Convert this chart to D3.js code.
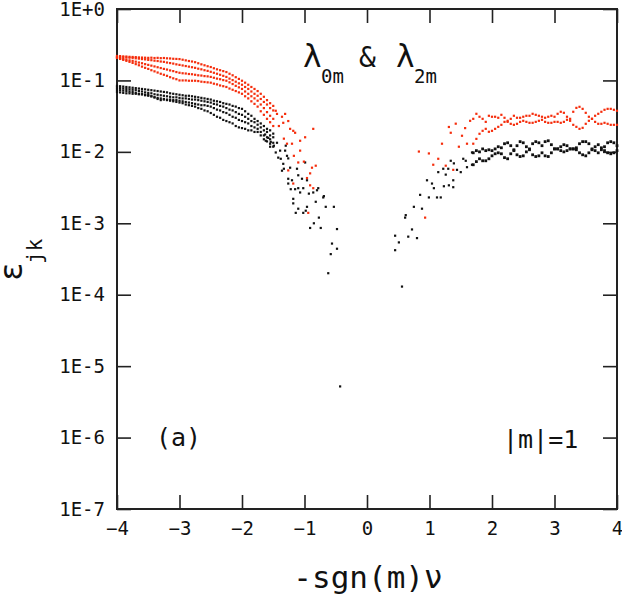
<!DOCTYPE html>
<html>
<head>
<meta charset="utf-8">
<script src="https://cdn.jsdelivr.net/npm/d3@7"></script>
<style>
  body { margin: 0; background: #fff; }
  text { font-family: "DejaVu Sans Mono", monospace; fill: #111; }
</style>
</head>
<body>
<svg class="chart" width="622" height="599"></svg>
<script>
// x grid for the dense left bands
const xLeft = [-4.00,-3.95,-3.90,-3.85,-3.80,-3.75,-3.70,-3.65,-3.60,-3.55,
  -3.50,-3.45,-3.40,-3.35,-3.30,-3.25,-3.20,-3.15,-3.10,-3.05,
  -3.00,-2.95,-2.90,-2.85,-2.80,-2.75,-2.70,-2.65,-2.60,-2.55,
  -2.50,-2.45,-2.40,-2.35,-2.30,-2.25,-2.20,-2.15,-2.10,-2.05,
  -2.00,-1.95,-1.90,-1.85,-1.80,-1.75,-1.70,-1.65,-1.60,-1.55,-1.50];

// x grid for the dense right bands
const xRight = [1.70,1.75,1.80,1.85,1.90,1.95,2.00,2.05,2.10,2.15,
  2.20,2.25,2.30,2.35,2.40,2.45,2.50,2.55,2.60,2.65,
  2.70,2.75,2.80,2.85,2.90,2.95,3.00,3.05,3.10,3.15,
  3.20,3.25,3.30,3.35,3.40,3.45,3.50,3.55,3.60,3.65,
  3.70,3.75,3.80,3.85,3.90,3.95,4.00];

// red (lambda 2m) left branches
const redLeftA = [0.220,0.219,0.217,0.216,0.214,0.213,0.212,0.210,0.209,0.208,
  0.207,0.208,0.206,0.207,0.205,0.206,0.204,0.203,0.201,0.200,
  0.199,0.195,0.191,0.187,0.184,0.180,0.174,0.168,0.163,0.158,
  0.154,0.148,0.143,0.139,0.135,0.131,0.124,0.118,0.111,0.105,
  0.099,0.093,0.087,0.081,0.076,0.071,0.065,0.059,0.053,0.048,0.044];
const redLeftB = [0.213,0.212,0.211,0.209,0.208,0.207,0.204,0.202,0.199,0.197,
  0.194,0.192,0.189,0.187,0.184,0.182,0.178,0.175,0.172,0.168,
  0.165,0.162,0.159,0.156,0.153,0.150,0.146,0.143,0.139,0.136,
  0.132,0.128,0.124,0.120,0.116,0.112,0.106,0.101,0.096,0.091,
  0.087,0.081,0.076,0.070,0.065,0.061,0.055,0.050,0.046,0.041,0.038];
const redLeftC = [0.207,0.203,0.199,0.195,0.191,0.188,0.183,0.178,0.174,0.169,
  0.165,0.161,0.157,0.153,0.149,0.145,0.142,0.138,0.135,0.131,
  0.128,0.126,0.125,0.123,0.122,0.120,0.118,0.117,0.115,0.114,
  0.112,0.109,0.106,0.104,0.101,0.099,0.094,0.089,0.084,0.080,
  0.076,0.070,0.065,0.060,0.056,0.052,0.046,0.041,0.036,0.032,0.029];
const redLeftD = [0.207,0.200,0.194,0.188,0.182,0.176,0.169,0.163,0.156,0.150,
  0.145,0.139,0.134,0.129,0.124,0.120,0.116,0.111,0.107,0.104,
  0.100,0.100,0.100,0.099,0.099,0.099,0.098,0.096,0.095,0.094,
  0.093,0.090,0.088,0.085,0.083,0.081,0.077,0.074,0.071,0.068,
  0.065,0.060,0.056,0.051,0.047,0.043,0.037,0.033,0.029,0.026,0.023];

// black (lambda 0m) left branches
const blackLeftA = [0.084,0.083,0.082,0.081,0.080,0.079,0.078,0.077,0.076,0.075,
  0.074,0.073,0.072,0.071,0.070,0.069,0.068,0.066,0.065,0.064,
  0.063,0.062,0.061,0.061,0.060,0.059,0.058,0.057,0.056,0.055,
  0.054,0.052,0.051,0.050,0.048,0.047,0.046,0.044,0.043,0.041,
  0.040,0.037,0.034,0.032,0.029,0.027,0.025,0.023,0.021,0.020,0.018];
const blackLeftB = [0.079,0.078,0.077,0.076,0.075,0.074,0.073,0.071,0.070,0.068,
  0.067,0.066,0.064,0.063,0.062,0.061,0.060,0.059,0.058,0.058,
  0.057,0.056,0.056,0.055,0.054,0.054,0.053,0.052,0.051,0.050,
  0.049,0.047,0.046,0.044,0.043,0.041,0.039,0.038,0.036,0.034,
  0.033,0.031,0.029,0.027,0.026,0.024,0.022,0.020,0.019,0.017,0.016];
const blackLeftC = [0.074,0.073,0.072,0.071,0.070,0.069,0.067,0.065,0.064,0.062,
  0.061,0.060,0.058,0.057,0.056,0.055,0.054,0.054,0.053,0.053,
  0.052,0.051,0.050,0.049,0.048,0.047,0.046,0.045,0.045,0.044,
  0.043,0.041,0.039,0.038,0.036,0.035,0.033,0.031,0.030,0.028,
  0.027,0.026,0.025,0.023,0.022,0.021,0.019,0.017,0.016,0.015,0.0134];
const blackLeftD = [0.069,0.068,0.067,0.066,0.066,0.065,0.065,0.064,0.064,0.063,
  0.063,0.060,0.058,0.055,0.053,0.054,0.053,0.052,0.051,0.050,
  0.049,0.048,0.046,0.045,0.044,0.043,0.041,0.040,0.038,0.037,
  0.035,0.033,0.031,0.030,0.028,0.027,0.026,0.025,0.023,0.022,
  0.0215,0.021,0.020,0.020,0.019,0.019,0.017,0.015,0.014,0.013,0.0118];

// right bands
const redRightA = [0.0290,0.0341,0.0310,0.0290,0.0263,0.0320,0.0310,0.0310,0.0300,0.0330,
  0.0300,0.0272,0.0290,0.0320,0.0300,0.0300,0.0310,0.0320,0.0320,0.0341,
  0.0330,0.0320,0.0310,0.0300,0.0310,0.0320,0.0310,0.0341,0.0364,0.0352,
  0.0310,0.0290,0.0364,0.0413,0.0427,0.0400,0.0352,0.0310,0.0290,0.0320,
  0.0341,0.0364,0.0388,0.0400,0.0400,0.0388,0.0376];
const redRightB = [0.0130,0.0152,0.0179,0.0197,0.0210,0.0191,0.0197,0.0210,0.0224,0.0239,
  0.0263,0.0263,0.0247,0.0239,0.0247,0.0263,0.0272,0.0263,0.0255,0.0255,
  0.0263,0.0272,0.0281,0.0263,0.0255,0.0255,0.0263,0.0263,0.0255,0.0263,
  0.0281,0.0272,0.0239,0.0224,0.0210,0.0217,0.0247,0.0272,0.0290,0.0263,
  0.0247,0.0247,0.0255,0.0247,0.0239,0.0239,0.0239];
const blackRightA = [0.0097,0.0104,0.0100,0.0110,0.0104,0.0107,0.0104,0.0110,0.0118,0.0114,
  0.0130,0.0134,0.0122,0.0107,0.0122,0.0139,0.0134,0.0118,0.0110,0.0130,
  0.0139,0.0134,0.0122,0.0139,0.0143,0.0126,0.0110,0.0110,0.0118,0.0126,
  0.0122,0.0110,0.0110,0.0114,0.0130,0.0139,0.0139,0.0130,0.0110,0.0118,
  0.0126,0.0114,0.0118,0.0134,0.0139,0.0134,0.0122];
const blackRightB = [0.0066,0.0073,0.0080,0.0075,0.0075,0.0080,0.0088,0.0094,0.0097,0.0094,
  0.0083,0.0080,0.0094,0.0104,0.0091,0.0086,0.0088,0.0100,0.0107,0.0091,
  0.0086,0.0088,0.0097,0.0088,0.0086,0.0097,0.0110,0.0110,0.0104,0.0100,
  0.0104,0.0110,0.0110,0.0107,0.0097,0.0091,0.0088,0.0097,0.0107,0.0104,
  0.0097,0.0107,0.0104,0.0097,0.0094,0.0097,0.0104];

// scattered points near the gap, [x, y]
const redScatter = [[-1.46,0.0376],[-1.44,0.034],[-1.36,0.031],[-1.31,0.034],[-1.34,0.0255],
  [-1.23,0.021],[-1.15,0.0185],[-1.20,0.013],[-1.07,0.0143],[-0.99,0.016],[-0.86,0.021],
  [-1.28,0.013],[-1.33,0.0153],[-1.07,0.0104],[-1.17,0.0088],[-1.10,0.0071],[-1.01,0.0073],
  [-0.82,0.0064],[-0.91,0.0050],[-1.26,0.0055],[-1.18,0.0036],[-0.91,0.0034],[-0.96,0.0043],
  [-0.88,0.0060],[-0.86,0.0031],[-1.18,0.0197],[-0.94,0.0014],[-1.41,0.023],[-1.26,0.027],
  [0.83,0.0101],[0.93,0.0012],[0.99,0.0095],[1.06,0.0066],[1.14,0.0080],[1.20,0.0130],
  [1.26,0.0064],[1.31,0.0223],[1.34,0.0185],[1.38,0.0056],[1.42,0.0248],[1.47,0.0118],
  [1.52,0.0168],[1.57,0.0215],[1.60,0.0130],[1.65,0.0272]];
const blackScatter = [[-1.63,0.0175],[-1.58,0.0157],[-1.54,0.0138],[-1.49,0.0122],[-1.62,0.0143],
  [-1.55,0.0118],[-1.31,0.0104],[-1.28,0.0088],[-1.46,0.0098],[-1.38,0.0080],[-1.33,0.0058],
  [-1.30,0.0122],[-1.44,0.0134],[-1.39,0.0104],[-1.42,0.0083],[-1.34,0.0068],[-1.36,0.00545],
  [-1.26,0.0081],[-1.23,0.0060],[-1.26,0.0042],[-1.12,0.0058],[-1.10,0.0047],[-1.20,0.0040],
  [-1.04,0.0042],[-0.99,0.0071],[-0.96,0.0040],[-1.02,0.0031],[-1.15,0.0030],[-1.07,0.0027],
  [-0.78,0.0031],[-0.86,0.0027],[-1.22,0.0030],[-1.18,0.0022],[-0.69,0.0024],[-1.26,0.0036],
  [-1.10,0.0031],[-0.93,0.0026],[-0.80,0.0029],[-0.70,0.0023],[-1.18,0.0019],[-1.10,0.0016],
  [-1.02,0.0014],[-0.98,0.0015],[-0.96,0.0017],[-1.14,0.0014],[-0.82,0.0020],[-0.66,0.0017],
  [-0.53,0.0017],[-0.77,0.0012],[-0.85,0.0010],[-0.91,0.00086],[-0.74,0.00086],[-0.48,0.00083],
  [-0.56,0.00052],[-0.48,0.00044],[-0.58,0.00037],[-0.62,0.0002],[-0.43,0.0000052],
  [0.45,0.00042],[0.45,0.00067],[0.51,0.00054],[0.56,0.00013],[0.61,0.0012],[0.62,0.0013],
  [0.66,0.00065],[0.72,0.00082],[0.75,0.0017],[0.80,0.00062],[0.85,0.0025],[0.88,0.0016],
  [0.99,0.0023],[0.96,0.0040],[1.04,0.0036],[1.07,0.0031],[1.12,0.0023],[1.18,0.0023],
  [1.23,0.0033],[1.31,0.0034],[1.38,0.0032],[1.38,0.0040],[1.26,0.0048],[1.14,0.0052],
  [1.22,0.0058],[1.30,0.0058],[1.34,0.0075],[1.39,0.0069],[1.44,0.0056],[1.50,0.0052],
  [1.54,0.0080],[1.58,0.0075],[1.60,0.0061],[1.68,0.0066],[1.68,0.0098]];

const xTicks = [-4, -3, -2, -1, 0, 1, 2, 3, 4];
const yTicks = [1e-7, 1e-6, 1e-5, 1e-4, 1e-3, 1e-2, 1e-1, 1];
const yTickLabels = ["1E-7", "1E-6", "1E-5", "1E-4", "1E-3", "1E-2", "1E-1", "1E+0"];

const svg = d3.select('svg.chart');
const mLeft = 117, mRight = 617, mTop = 9, mBottom = 509;

const x = d3.scaleLinear().domain([-4, 4]).range([mLeft, mRight]);
const y = d3.scaleLog().domain([1e-7, 1]).range([mBottom, mTop]);

// axes, ticks pointing inward on all four sides
const axisFont = g => g.selectAll('text')
  .style('font-family', '"DejaVu Sans Mono", monospace')
  .style('font-size', '19px').attr('fill', '#111');
const tidy = g => {
  g.select('.domain').remove();
  g.selectAll('line').attr('stroke', '#222').attr('stroke-width', 1.6);
};

svg.append('g').attr('transform', `translate(0,${mBottom})`)
  .call(d3.axisBottom(x).tickValues(xTicks).tickSize(-14).tickPadding(13).tickFormat(d3.format('d')))
  .call(tidy).call(axisFont);
svg.append('g').attr('transform', `translate(0,${mTop})`)
  .call(d3.axisTop(x).tickValues(xTicks).tickSize(-14).tickFormat(''))
  .call(tidy);
svg.append('g').attr('transform', `translate(${mLeft},0)`)
  .call(d3.axisLeft(y).tickValues(yTicks).tickSize(-14).tickPadding(12)
    .tickFormat((d, i) => yTickLabels[i]))
  .call(tidy).call(axisFont);
svg.append('g').attr('transform', `translate(${mRight},0)`)
  .call(d3.axisRight(y).tickValues(yTicks).tickSize(-14).tickFormat(''))
  .call(tidy);

// frame
svg.append('rect')
  .attr('x', mLeft).attr('y', mTop)
  .attr('width', mRight - mLeft).attr('height', mBottom - mTop)
  .attr('fill', 'none').attr('stroke', '#222').attr('stroke-width', 2);

// data points
const RED = '#f52d0c', BLACK = '#111';
const toPts = (xs, ys) => xs.map((d, i) => [d, ys[i]]);
const blackPts = [].concat(
  toPts(xLeft, blackLeftA), toPts(xLeft, blackLeftB), toPts(xLeft, blackLeftC), toPts(xLeft, blackLeftD),
  blackScatter);
const blackRightPts = [].concat(toPts(xRight, blackRightA), toPts(xRight, blackRightB));
const redPts = [].concat(
  toPts(xLeft, redLeftA), toPts(xLeft, redLeftB), toPts(xLeft, redLeftC), toPts(xLeft, redLeftD),
  toPts(xRight, redRightA), toPts(xRight, redRightB), redScatter);

function drawDots(pts, color, size) {
  svg.append('g').selectAll('rect').data(pts).enter().append('rect')
    .attr('x', d => x(d[0]) - size / 2)
    .attr('y', d => y(d[1]) - size / 2)
    .attr('width', size).attr('height', size)
    .attr('fill', color);
}
drawDots(blackPts, BLACK, 2.2);
drawDots(blackRightPts, BLACK, 2.8);
drawDots(redPts, RED, 2.2);

// labels
svg.append('text').attr('x', 303).attr('y', 67).style('font-size', '31px').text('λ');
svg.append('text').attr('x', 321).attr('y', 83).style('font-size', '19px').text('0m');
svg.append('text').attr('x', 359).attr('y', 67).style('font-size', '28px').text('&');
svg.append('text').attr('x', 396).attr('y', 67).style('font-size', '31px').text('λ');
svg.append('text').attr('x', 414).attr('y', 83).style('font-size', '19px').text('2m');

svg.append('text').attr('x', 156).attr('y', 446).style('font-size', '25px').text('(a)');
svg.append('text').attr('x', 503).attr('y', 448).style('font-size', '25px').text('|m|=1');

svg.append('text').attr('x', 368).attr('y', 588).attr('text-anchor', 'middle')
  .style('font-size', '31px').text('-sgn(m)ν');

svg.append('text').attr('transform', 'translate(22,281) rotate(-90)')
  .style('font-size', '31px').text('ε');
svg.append('text').attr('transform', 'translate(42,264) rotate(-90)')
  .style('font-size', '21px').text('jk');
</script>
</body>
</html>
